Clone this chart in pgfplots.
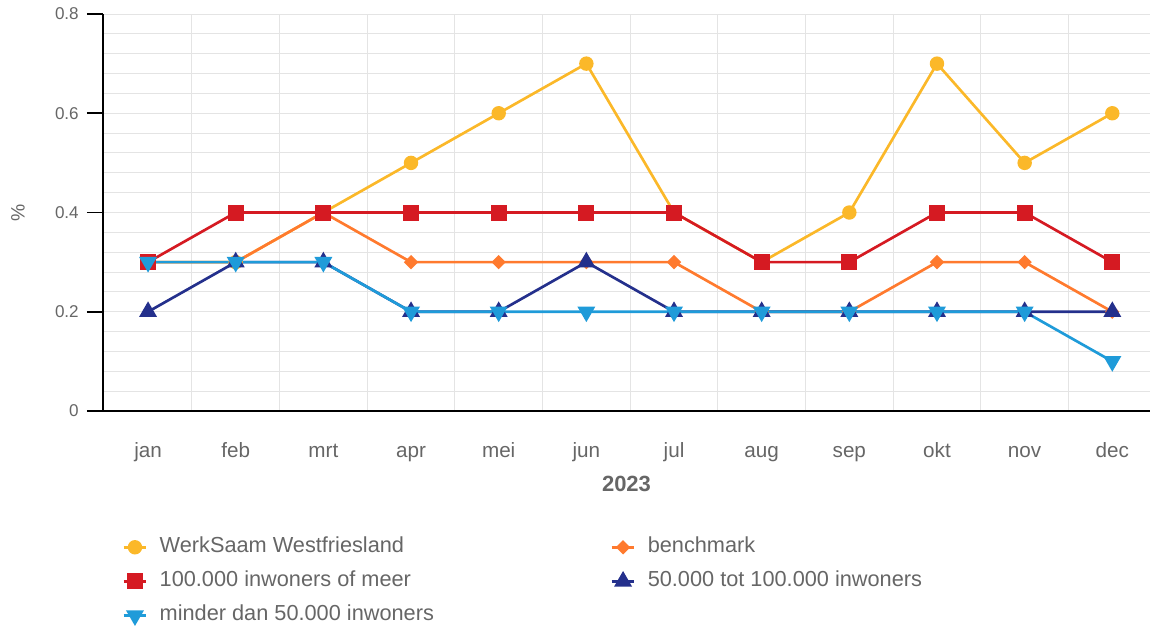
\documentclass[border=0pt]{standalone}
\usepackage{fontspec}
\setmainfont{Liberation Sans}
\usepackage{pgfplots}
\pgfplotsset{compat=1.18}
\definecolor{cWerk}{HTML}{FBB829}
\definecolor{cBench}{HTML}{FF7A2E}
\definecolor{cHund}{HTML}{D51A22}
\definecolor{cFifty}{HTML}{24308C}
\definecolor{cLess}{HTML}{1F9BD9}
\definecolor{txtgray}{HTML}{666666}
\definecolor{gridgray}{HTML}{E4E4E4}
\newcommand\legtxt[1]{\makebox[336pt][l]{#1}}
\begin{document}
\begin{tikzpicture}
\begin{axis}[
  at={(0,0)}, anchor=south west,
  scale only axis, width=785.25pt, height=297.75pt,
  xmin=-0.514, xmax=11.43, ymin=0, ymax=0.8,
  axis x line*=bottom, axis y line*=left,
  axis line style={black, line width=1.4pt, -},
  xtick={0,...,11},
  xticklabels={jan,feb,mrt,apr,mei,jun,jul,aug,sep,okt,nov,dec},
  minor xtick={0.5,1.5,...,10.5},
  ytick={0,0.2,0.4,0.6,0.8},
  minor y tick num=4,
  xminorgrids=true, xmajorgrids=false, ymajorgrids=true, yminorgrids=true,
  major grid style={color=gridgray, line width=0.75pt},
  minor grid style={color=gridgray, line width=0.75pt},
  tick align=outside, major tick length=12pt, minor tick length=0pt,
  xtick style={draw=none},
  ytick style={black, line width=1.4pt},
  /pgf/number format/assume math mode=true,
  xticklabel style={font=\fontsize{15.5}{17}\selectfont, text=txtgray, anchor=base, yshift=-22.5pt},
  yticklabel style={font=\fontsize{12.8}{14}\selectfont, text=txtgray, anchor=east, inner sep=0pt, xshift=-6pt},
  ylabel={\%},
  ylabel style={at={(axis description cs:-0.0812,0.5)}, anchor=center, rotate=0, font=\fontsize{14.5}{16}\selectfont, text=txtgray},
  xlabel={2023},
  xlabel style={at={(axis description cs:0.5,-0.1839)}, anchor=center, font=\fontsize{16.5}{18}\selectfont\bfseries, text=txtgray},
  legend columns=2,
  legend cell align=left,
  legend style={at={(0,0)}, anchor=north west, xshift=14.25pt, yshift=-93pt,
    draw=none, fill=none, inner sep=0pt, row sep=7.6pt,
    font=\fontsize{16.3}{18}\selectfont, text=txtgray,
    nodes={inner sep=2pt, text height=11pt, text depth=3pt},
    /tikz/every odd column/.append style={column sep=7pt}},
  every axis plot/.append style={line width=2pt},
  clip=false,
]
\addplot[color=cWerk, mark=*, mark size=4.4pt] coordinates {
(0,0.3) (1,0.3) (2,0.4) (3,0.5) (4,0.6) (5,0.7) (6,0.4) (7,0.3) (8,0.4) (9,0.7) (10,0.5) (11,0.6)};
\addlegendentry{\legtxt{WerkSaam Westfriesland}}
\addplot[color=cBench, mark=square*, mark size=2.8pt, mark options={rotate=45}] coordinates {
(0,0.3) (1,0.3) (2,0.4) (3,0.3) (4,0.3) (5,0.3) (6,0.3) (7,0.2) (8,0.2) (9,0.3) (10,0.3) (11,0.2)};
\addlegendentry{\legtxt{benchmark}}
\addplot[color=cHund, mark=square*, mark size=5pt] coordinates {
(0,0.3) (1,0.4) (2,0.4) (3,0.4) (4,0.4) (5,0.4) (6,0.4) (7,0.3) (8,0.3) (9,0.4) (10,0.4) (11,0.3)};
\addlegendentry{\legtxt{100.000 inwoners of meer}}
\addplot[color=cFifty, mark=triangle*, mark size=5.8pt] coordinates {
(0,0.2) (1,0.3) (2,0.3) (3,0.2) (4,0.2) (5,0.3) (6,0.2) (7,0.2) (8,0.2) (9,0.2) (10,0.2) (11,0.2)};
\addlegendentry{\legtxt{50.000 tot 100.000 inwoners}}
\addplot[color=cLess, mark=triangle*, mark size=5.8pt, mark options={rotate=180}] coordinates {
(0,0.3) (1,0.3) (2,0.3) (3,0.2) (4,0.2) (5,0.2) (6,0.2) (7,0.2) (8,0.2) (9,0.2) (10,0.2) (11,0.1)};
\addlegendentry{\legtxt{minder dan 50.000 inwoners}}
\end{axis}
\pgfresetboundingbox
\useasboundingbox (-77.25pt,-161.25pt) rectangle (785.25pt,308.25pt);
\end{tikzpicture}
\end{document}
